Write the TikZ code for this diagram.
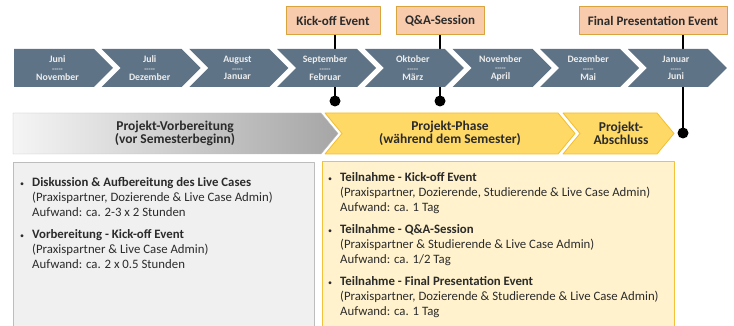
\documentclass[tikz,border=0pt]{standalone}
\usepackage{fontspec}
\setmainfont{Carlito}
\usetikzlibrary{calc}
\definecolor{slate}{HTML}{5F7386}
\definecolor{peach}{HTML}{F8CBAD}
\definecolor{evedge}{HTML}{D9A43E}
\definecolor{sun}{HTML}{FFD966}
\definecolor{sunedge}{HTML}{F3BE2C}
\definecolor{cream}{HTML}{FFF2CC}
\definecolor{creamedge}{HTML}{F4C23A}
\definecolor{mist}{HTML}{F0F0F0}
\definecolor{mistedge}{HTML}{BDBDBD}
\definecolor{ink}{HTML}{2B2B2B}
\newlength\bulletw
\setlength\bulletw{12pt}
\newcommand\dashrow{{\fontsize{7}{7}\selectfont\mbox{-}\mbox{-}\mbox{-}\mbox{-}\mbox{-}}}
\newcommand\caseitem[3]{\makebox[\bulletw][l]{\fontsize{8}{8}\selectfont\textbullet}\textbf{#1}\\
  \hspace*{\bulletw}#2\\
  \hspace*{\bulletw}#3}
\begin{document}
\begin{tikzpicture}[line cap=round,line join=round,x=1pt,y=-1pt,
  evbox/.style={draw=evedge,fill=peach,line width=1pt,minimum height=28,inner sep=0,font=\bfseries\fontsize{13}{13}\selectfont,text=ink},
  monthlabel/.style={align=center,inner sep=0,text=white!93!black,font=\bfseries\fontsize{9.8}{8.6}\selectfont},
  phaselabel/.style={align=center,inner sep=0,text=ink,font=\bfseries\fontsize{13.5}{10.5}\selectfont},
  listtext/.style={align=left,inner sep=0,text=ink,font=\fontsize{12.8}{15}\selectfont},
  stem/.style={line width=2.3pt,black,line cap=butt}]
\path[use as bounding box,clip] (0,0) rectangle (734,326);
% events on top
\node[evbox,minimum width=94] (kick) at (333,21) {Kick-off Event};
\node[evbox,minimum width=88] (qa) at (440,21) {Q\&A-Session};
\node[evbox,minimum width=148] (final) at (653,21) {Final Presentation Event};
\coordinate (d1) at (335,101);
\coordinate (d2) at (440,101);
\coordinate (d3) at (683,133);
\draw[stem] (kick.south -| d1) -- (d1);
\draw[stem] (qa.south -| d2) -- (d2);
\draw[stem] (final.south -| d3) -- (d3);
% month chevrons
\foreach \i/\ma/\mb in {0/Juni/November,1/Juli/Dezember,2/August/Januar,3/September/Februar,
  4/Oktober/März,5/November/April,6/Dezember/Mai,7/Januar/Juni}{
  \pgfmathsetmacro\xa{14+87.7*\i}
  \pgfmathsetmacro\nd{\i==0 ? 0 : 19}
  \pgfmathsetmacro\xc{\xa+(\i==0 ? 43.5 : 48)}
  \fill[slate] (\xa,49) -- ({\xa+80},49) -- ({\xa+99},68) -- ({\xa+80},87) -- (\xa,87) -- ({\xa+\nd},68) -- cycle;
  \node[monthlabel] (m\i) at (\xc,68) {\ma\\\dashrow\\\mb};
}
% phases
\draw[mistedge,left color=white!96!black,right color=black!35] (13,113) -- (321,113) -- (338,133.5) -- (321,154) -- (13,154) -- cycle;
\draw[sunedge,fill=sun,line width=0.8pt] (325,113) -- (558,113) -- (575,133.5) -- (558,154) -- (325,154) -- (342,133.5) -- cycle;
\draw[sunedge,fill=sun,line width=0.8pt] (563,113) -- (657,113) -- (674,133.5) -- (657,154) -- (563,154) -- (580,133.5) -- cycle;
\node[phaselabel] (prepname) at (175,133.5) {Projekt-Vorbereitung\\(vor Semesterbeginn)};
\node[phaselabel] (runname) at (450,133.5) {Projekt-Phase\\(während dem Semester)};
\node[phaselabel] (endname) at (621,133.5) {Projekt-\\Abschluss};
\foreach \d in {d1,d2,d3}
  \fill (\d) circle (5.5);
% task boxes
\node[draw=mistedge,fill=mist,line width=1.2pt,anchor=north west,minimum width=301,minimum height=190,inner sep=0] (prep) at (13,162) {};
\node[draw=creamedge,fill=cream,line width=1.2pt,anchor=north west,minimum width=352,minimum height=190,inner sep=0] (run) at (322,161) {};
\node[listtext,anchor=north west] (preplist) at ($(prep.north west)+(7,15)$) {%
  \caseitem{Diskussion \& Aufbereitung des Live Cases}{(Praxispartner, Dozierende \& Live Case Admin)}{Aufwand: ca. 2-3 x 2 Stunden}\\[7pt]
  \caseitem{Vorbereitung - Kick-off Event}{(Praxispartner \& Live Case Admin)}{Aufwand: ca. 2 x 0.5 Stunden}};
\node[listtext,anchor=north west] (runlist) at ($(run.north west)+(6,11)$) {%
  \caseitem{Teilnahme - Kick-off Event}{(Praxispartner, Dozierende, Studierende \& Live Case Admin)}{Aufwand: ca. 1 Tag}\\[7pt]
  \caseitem{Teilnahme - Q\&A-Session}{(Praxispartner \& Studierende \& Live Case Admin)}{Aufwand: ca. 1/2 Tag}\\[7pt]
  \caseitem{Teilnahme - Final Presentation Event}{(Praxispartner, Dozierende \& Studierende \& Live Case Admin)}{Aufwand: ca. 1 Tag}};
\end{tikzpicture}
\end{document}
